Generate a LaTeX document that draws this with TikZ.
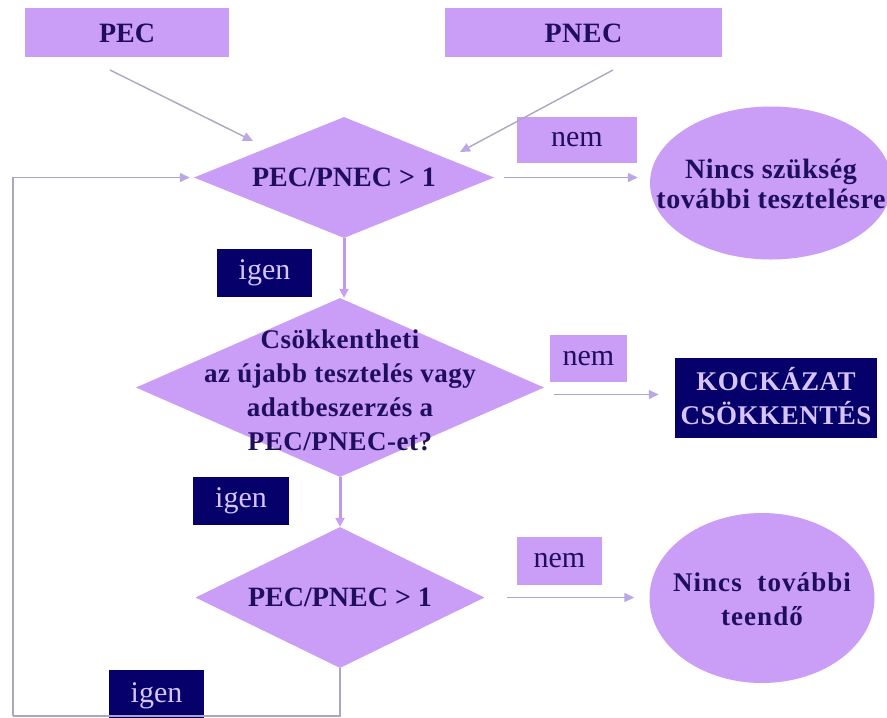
\documentclass[tikz,border=0pt]{standalone}
\usepackage{fontspec}
\setmainfont{Liberation Serif}
\newfontfamily\spc{Liberation Serif}[LetterSpace=2]
\newfontfamily\spcw{Liberation Serif}[LetterSpace=4]
\usetikzlibrary{shapes.geometric,arrows.meta}
\definecolor{lav}{HTML}{CA9DF7}
\definecolor{navy}{HTML}{06006A}
\definecolor{ink}{HTML}{1E0E5C}
\definecolor{lline}{HTML}{ADA5C4}
\definecolor{ltxt}{HTML}{D6C4FA}
\definecolor{ahead}{HTML}{BBA6E6}
\begin{document}
\begin{tikzpicture}[x=1pt,y=-1pt,
  lbox/.style={fill=lav, draw=none, inner sep=0pt, text=ink},
  nbox/.style={fill=navy, draw=none, inner sep=0pt, text=ltxt},
  dia/.style={diamond, fill=lav, draw=none, inner sep=0pt},
  ell/.style={ellipse, fill=lav, draw=none, inner sep=0pt},
  btxt/.style={text=ink, font=\fontsize{28}{32}\selectfont\bfseries, align=center, inner sep=0pt},
  rtxt/.style={font=\fontsize{30}{32}\selectfont},
  conn/.style={draw=lline, line width=1.4pt, -{Triangle[length=10pt,width=9pt,fill=ahead,color=ahead]}},
  vconn/.style={draw=lav!85!gray, line width=3pt, -{Triangle[length=9pt,width=9pt,fill=lav,color=lav]}},
  loopline/.style={draw=lline, line width=1.4pt},
]
\fill[white] (0,0) rectangle (887,718);
\clip (0,0) rectangle (887,718);

% top input boxes
\node[lbox, minimum width=204pt, minimum height=49pt] (pec) at (127,32.5) {};
\node[btxt] at ([yshift=-1pt]pec) {PEC};
\node[lbox, minimum width=277pt, minimum height=49pt] (pnec) at (583.5,32.5) {};
\node[btxt] at ([yshift=-1pt]pnec) {\spc PNEC};

% decisions
\node[dia, minimum width=300pt, minimum height=121pt] (d1) at (344,177.5) {};
\node[btxt] at (d1) {PEC/PNEC > 1};
\node[dia, minimum width=408pt, minimum height=179pt] (d2) at (340,387.5) {};
\node[btxt, font=\fontsize{27}{34}\selectfont\bfseries\spc] at ([yshift=-3pt]d2) {Csökkentheti\\az újabb tesztelés vagy\\adatbeszerzés a\\PEC/PNEC-et?};
\node[dia, minimum width=289pt, minimum height=141pt] (d3) at (340,597.5) {};
\node[btxt] at (d3) {PEC/PNEC > 1};

% outcomes
\node[ell, minimum width=242pt, minimum height=153pt] (e1) at (771,183) {};
\node[btxt, font=\fontsize{28}{30}\selectfont\bfseries\spc] at ([yshift=-1pt]e1) {Nincs szükség\\további tesztelésre};
\node[nbox, minimum width=202pt, minimum height=80pt] (kock) at (776,398) {};
\node[btxt, text=ltxt, font=\fontsize{27}{34}\selectfont\bfseries\spc] at ([yshift=2pt]kock) {KOCKÁZAT\\CSÖKKENTÉS};
\node[ell, minimum width=225pt, minimum height=170pt] (e3) at (762,598) {};
\node[btxt, font=\fontsize{27}{34}\selectfont\bfseries\spcw] at ([yshift=-1pt]e3) {Nincs \ további\\teendő};

% labels
\node[lbox, rtxt, minimum width=120pt, minimum height=46pt] (nem1) at (577,140) {nem};
\node[lbox, rtxt, minimum width=77pt, minimum height=47pt] (nem2) at (588.5,358.5) {nem};
\node[lbox, rtxt, minimum width=85pt, minimum height=48pt] (nem3) at (559.5,561) {nem};
\node[nbox, rtxt, minimum width=95pt, minimum height=48pt] (igen1) at (264.5,273) {igen};
\node[nbox, rtxt, minimum width=96pt, minimum height=48pt] (igen2) at (241,501) {igen};
\node[nbox, rtxt, minimum width=95pt, minimum height=52pt] (igen3) at (156.5,696) {igen};

% connectors
\coordinate (pecA) at (110,70);
\coordinate (pecB) at (253,141);
\coordinate (pnecA) at (613,70);
\coordinate (pnecB) at (460,152);
\draw[conn] (pecA) -- (pecB);
\draw[conn] (pnecA) -- (pnecB);

\draw[conn, shorten <=10pt, shorten >=12pt] (d1.east) -- (d1.east -| e1.west);
\draw[conn, shorten <=10pt, shorten >=16pt] ([yshift=-7pt]d2.east) -- ([yshift=-7pt]d2.east -| kock.west);
\draw[conn, shorten <=22pt, shorten >=15pt] (d3.east) -- (d3.east -| e3.west);

\draw[vconn] (d1.south) -- (d1.south |- d2.north);
\draw[vconn] (d2.south) -- (d2.south |- d3.north);

\coordinate (lb) at (13,716);
\draw[loopline] (d3.south) |- (lb);
\draw[conn, shorten >=4pt] (lb) |- (d1.west);
\end{tikzpicture}
\end{document}
